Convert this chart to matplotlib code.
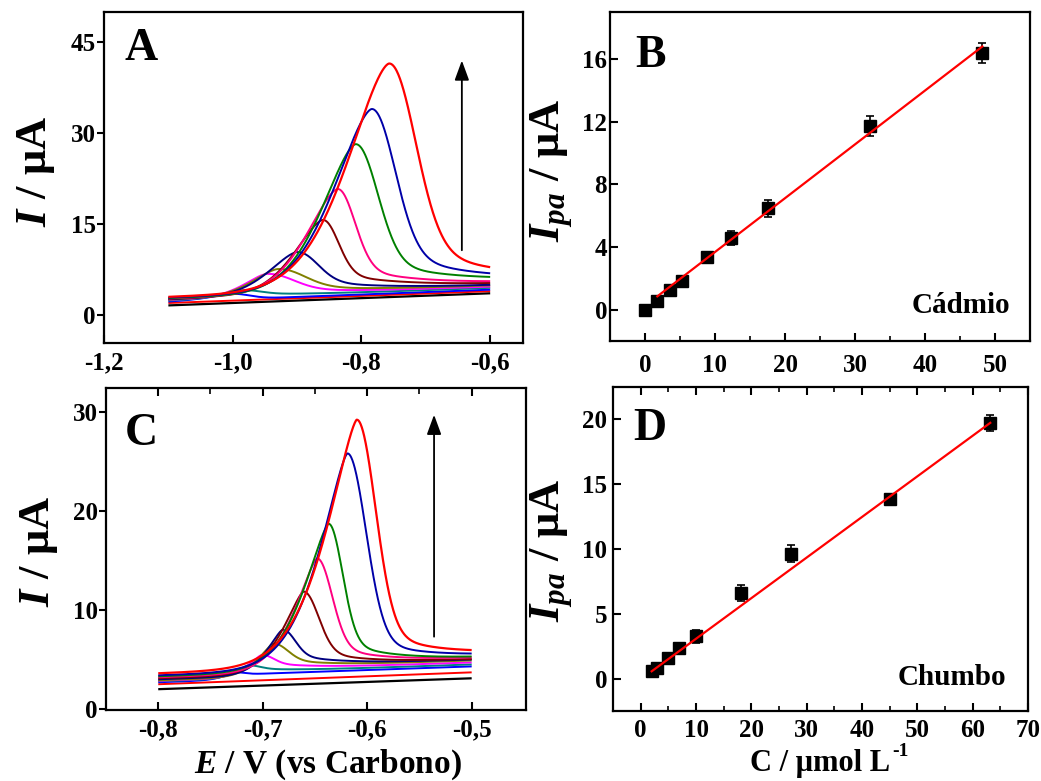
import numpy as np
import matplotlib
matplotlib.use("Agg")
import matplotlib.pyplot as plt
from matplotlib.ticker import FixedLocator, FuncFormatter, MultipleLocator

plt.rcParams.update({
    "font.family": "Liberation Serif",
    "font.weight": "bold",
    "mathtext.fontset": "custom",
    "mathtext.rm": "Liberation Serif:bold",
    "mathtext.it": "Liberation Serif:italic:bold",
    "mathtext.bf": "Liberation Serif:bold",
    "axes.linewidth": 1.6,
})

nan = np.nan

# ---------------- voltammograms: one entry per standard addition ----------------
trace_colors = ["#000000", "#FF0000", "#0000FF", "#008080", "#FF00FF", "#808000",
                "#000080", "#800000", "#FF0080", "#008000", "#0000A8", "#FF0000"]
trace_widths = [1.6, 1.4, 1.4, 1.4, 1.4, 1.4, 1.4, 1.4, 1.4, 1.4, 1.4, 1.6]

# Cadmium (panel A)
cd_window = (-1.10, -0.60)
cd_i_start = [1.6, 2.0, 2.2, 2.4, 2.5, 2.55, 2.6, 2.7, 2.75, 2.8, 2.9, 3.0]
cd_i_end = [3.6, 3.95, 4.2, 4.5, 4.7, 4.9, 5.0, 5.3, 5.6, 6.3, 6.9, 7.9]
cd_peak_e = [nan, nan, -1.000, -0.985, -0.947, -0.930, -0.900, -0.860, -0.837, -0.809, -0.784, -0.757]
cd_peak_i = [nan, nan, 3.5, 4.1, 6.8, 7.6, 10.4, 15.7, 20.8, 28.2, 34.0, 41.5]
cd_hw_left = [nan, nan, 0.040, 0.035, 0.040, 0.045, 0.050, 0.050, 0.055, 0.060, 0.067, 0.074]
cd_hw_right = [nan, nan, 0.030, 0.030, 0.045, 0.045, 0.035, 0.027, 0.030, 0.038, 0.040, 0.045]
cd_tail = [nan, nan, 0.0, 0.6, 1.2, 1.5, 2.5, 3.5, 4.5, 6.0, 8.0, 10.0]
cd_tail_decay = 0.10
cd_left_power = 1.6

# Lead (panel C)
pb_window = (-0.80, -0.50)
pb_i_start = [2.0, 2.5, 2.7, 2.8, 2.85, 2.9, 3.0, 3.1, 3.2, 3.3, 3.4, 3.6]
pb_i_end = [3.1, 3.7, 4.3, 4.5, 4.7, 4.9, 5.0, 5.05, 5.2, 5.3, 5.6, 5.95]
pb_peak_e = [nan, nan, -0.726, -0.714, -0.701, -0.690, -0.681, -0.661, -0.648, -0.637, -0.619, -0.610]
pb_peak_i = [nan, nan, 3.7, 4.4, 5.45, 6.6, 8.0, 11.85, 15.2, 18.7, 25.8, 29.2]
pb_hw_left = [nan, nan, 0.012, 0.013, 0.015, 0.016, 0.017, 0.022, 0.024, 0.027, 0.030, 0.033]
pb_hw_right = [nan, nan, 0.010, 0.012, 0.012, 0.015, 0.013, 0.016, 0.016, 0.015, 0.020, 0.020]
pb_tail = [nan, nan, 0.0, 0.4, 0.8, 1.0, 1.5, 2.0, 2.5, 3.0, 3.5, 4.7]
pb_tail_decay = 0.04
pb_left_power = 1.4

# ---------------- calibration data ----------------
cd_conc = [0.0, 1.76, 3.57, 5.33, 8.81, 12.24, 17.57, 32.14, 48.19]
cd_ipa = [0.0, 0.53, 1.23, 1.85, 3.36, 4.55, 6.48, 11.73, 16.40]
cd_err = [0.0, 0.12, 0.12, 0.15, 0.20, 0.45, 0.55, 0.62, 0.64]
cd_fit = (0.3435, 0.245)   # slope, intercept

pb_conc = [1.99, 2.89, 4.98, 6.97, 9.93, 18.05, 27.08, 45.13, 63.18]
pb_ipa = [0.56, 0.82, 1.59, 2.36, 3.26, 6.60, 9.63, 13.84, 19.70]
pb_err = [0.15, 0.15, 0.20, 0.25, 0.50, 0.65, 0.65, 0.25, 0.62]
pb_fit = (0.3133, -0.06)


def voltammogram(e, i0, i1, window, slope, ep, ip, hl, hr, tail, tau, p_left):
    e0, e1 = window
    if np.isnan(ep):
        return i0 + (i1 - i0) * (e - e0) / (e1 - e0)
    base = i0 + slope * (e - e0)
    height = ip - (i0 + slope * (ep - e0))
    step = i1 - (i0 + slope * (e1 - e0)) - tail * np.exp(-(e1 - ep) / tau)
    dx = e - ep
    left = base + height * np.exp(-np.log(2) * (np.abs(dx) / hl) ** p_left)
    g = np.exp(-np.log(2) * (dx / hr) ** 2)
    right = base + (step + tail * np.exp(-np.clip(dx, 0, None) / tau)) * (1 - g) + height * g
    return np.where(dx < 0, left, right)


def draw_traces(ax, window, i_start, i_end, pe, pi, hl, hr, tail, tau, p_left):
    e = np.linspace(window[0], window[1], 800)
    slope = (i_end[0] - i_start[0]) / (window[1] - window[0])
    for k in range(len(i_start)):
        y = voltammogram(e, i_start[k], i_end[k], window, slope, pe[k], pi[k],
                         hl[k], hr[k], tail[k], tau, p_left)
        ax.plot(e, y, color=trace_colors[k], lw=trace_widths[k], solid_capstyle="butt")


comma = FuncFormatter(lambda v, pos: f"{v:.1f}".replace(".", ","))
W, H = 1041, 781
fig = plt.figure(figsize=(W / 100, H / 100), dpi=100)


def axes_px(l, t, r, b):
    return fig.add_axes([l / W, 1 - b / H, (r - l) / W, (b - t) / H])


TICK = 18
ARROW = dict(arrowstyle="-|>,head_length=0.6,head_width=0.22", color="k", lw=1.3,
             mutation_scale=20, shrinkA=0, shrinkB=0)

# ---------- A ----------
axA = axes_px(104, 12, 523, 343)
draw_traces(axA, cd_window, cd_i_start, cd_i_end, cd_peak_e, cd_peak_i,
            cd_hw_left, cd_hw_right, cd_tail, cd_tail_decay, cd_left_power)
axA.set_xlim(-1.2, -0.549)
axA.set_ylim(-4.6, 50)
axA.xaxis.set_major_locator(FixedLocator([-1.2, -1.0, -0.8, -0.6]))
axA.xaxis.set_major_formatter(comma)
axA.yaxis.set_major_locator(FixedLocator([0, 15, 30, 45]))
axA.annotate("", xy=(-0.644, 42.0), xytext=(-0.644, 10.7), arrowprops=ARROW)
axA.text(0.05, 0.855, "A", transform=axA.transAxes, fontsize=33, fontweight="bold")

# ---------- C ----------
axC = axes_px(106, 388, 526, 710)
draw_traces(axC, pb_window, pb_i_start, pb_i_end, pb_peak_e, pb_peak_i,
            pb_hw_left, pb_hw_right, pb_tail, pb_tail_decay, pb_left_power)
axC.set_xlim(-0.85, -0.448)
axC.set_ylim(-0.1, 32.4)
axC.xaxis.set_major_locator(FixedLocator([-0.8, -0.7, -0.6, -0.5]))
axC.xaxis.set_minor_locator(FixedLocator([-0.75, -0.65, -0.55]))
axC.xaxis.set_major_formatter(comma)
axC.yaxis.set_major_locator(FixedLocator([0, 10, 20, 30]))
axC.annotate("", xy=(-0.536, 29.7), xytext=(-0.536, 7.3), arrowprops=ARROW)
axC.text(0.045, 0.823, "C", transform=axC.transAxes, fontsize=33, fontweight="bold")

# ---------- B ----------
axB = axes_px(610, 12, 1030, 341)
axB.errorbar(cd_conc, cd_ipa, yerr=cd_err, fmt="s", color="k", ms=8.5,
             ecolor="k", elinewidth=1.2, capsize=3, capthick=1.2, zorder=3)
xb = np.array([cd_conc[1], cd_conc[-1]])
axB.plot(xb, cd_fit[0] * xb + cd_fit[1], color="#FF0000", lw=1.6, zorder=4)
axB.set_xlim(-5, 55)
axB.set_ylim(-2, 19)
axB.xaxis.set_major_locator(MultipleLocator(10))
axB.xaxis.set_minor_locator(MultipleLocator(5))
axB.yaxis.set_major_locator(FixedLocator([0, 4, 8, 12, 16]))
axB.text(0.06, 0.834, "B", transform=axB.transAxes, fontsize=33, fontweight="bold")
axB.text(0.952, 0.084, "Cádmio", transform=axB.transAxes, fontsize=21,
         fontweight="bold", ha="right")

# ---------- D ----------
axD = axes_px(613, 387, 1028, 711)
axD.errorbar(pb_conc, pb_ipa, yerr=pb_err, fmt="s", color="k", ms=8.5,
             ecolor="k", elinewidth=1.2, capsize=3, capthick=1.2, zorder=3)
xd = np.array([pb_conc[0], pb_conc[-1]])
axD.plot(xd, pb_fit[0] * xd + pb_fit[1], color="#FF0000", lw=1.6, zorder=4)
axD.set_xlim(-5, 70)
axD.set_ylim(-2.5, 22.5)
axD.xaxis.set_major_locator(MultipleLocator(10))
axD.xaxis.set_minor_locator(MultipleLocator(5))
axD.yaxis.set_major_locator(FixedLocator([0, 5, 10, 15, 20]))
axD.text(0.048, 0.836, "D", transform=axD.transAxes, fontsize=33, fontweight="bold")
axD.text(0.948, 0.08, "Chumbo", transform=axD.transAxes, fontsize=21,
         fontweight="bold", ha="right")

# ---------- tick styling ----------
for ax in (axA, axB, axC, axD):
    ax.tick_params(axis="x", direction="in", length=6, width=1.5, labelsize=TICK, pad=6)
    ax.tick_params(axis="x", which="minor", direction="in", length=3.5, width=1.2)
    for lab in ax.get_xticklabels() + ax.get_yticklabels():
        lab.set_fontweight("bold")
# lower panels carry short ticks along their upper frame as well
axC.tick_params(axis="x", which="both", top=True, labeltop=False)
axC.tick_params(axis="x", which="minor", bottom=False, length=4)
axC.tick_params(axis="x", which="major", length=6)
axD.tick_params(axis="x", which="both", top=True, labeltop=False)
for ax in (axA, axC):
    ax.tick_params(axis="y", direction="out", length=5, width=1.5, labelsize=TICK, pad=1)
axB.tick_params(axis="y", direction="in", length=6, width=1.5, labelsize=TICK, pad=2)
axD.tick_params(axis="y", direction="in", length=6, width=1.5, labelsize=TICK, pad=4)
axB.tick_params(axis="x", pad=9)


# ---------- axis titles ----------
def fig_text(x, y, s, **kw):
    return fig.text(x / W, 1 - y / H, s, fontweight="bold", **kw)


fig_text(36, 171, r"$I$ / μA", fontsize=32, rotation=90, ha="center", va="center")
fig_text(39, 551, r"$I$ / μA", fontsize=32, rotation=90, ha="center", va="center")
fig_text(552, 170, r"$I_{pa}$ / μA", fontsize=32, rotation=90, ha="center", va="center")
fig_text(552, 550, r"$I_{pa}$ / μA", fontsize=32, rotation=90, ha="center", va="center")
fig_text(328, 773, r"$E$ / V (vs Carbono)", fontsize=24, ha="center", va="baseline")

# concentration title with a raised "-1" exponent
conc_title = fig_text(750, 771, "C / μmol L", fontsize=22, ha="left", va="baseline")
fig.canvas.draw()
bb = conc_title.get_window_extent()
fig_text(bb.x1 + 2, 756, "-1", fontsize=14, ha="left", va="baseline")

fig.savefig("out.png", dpi=100)
